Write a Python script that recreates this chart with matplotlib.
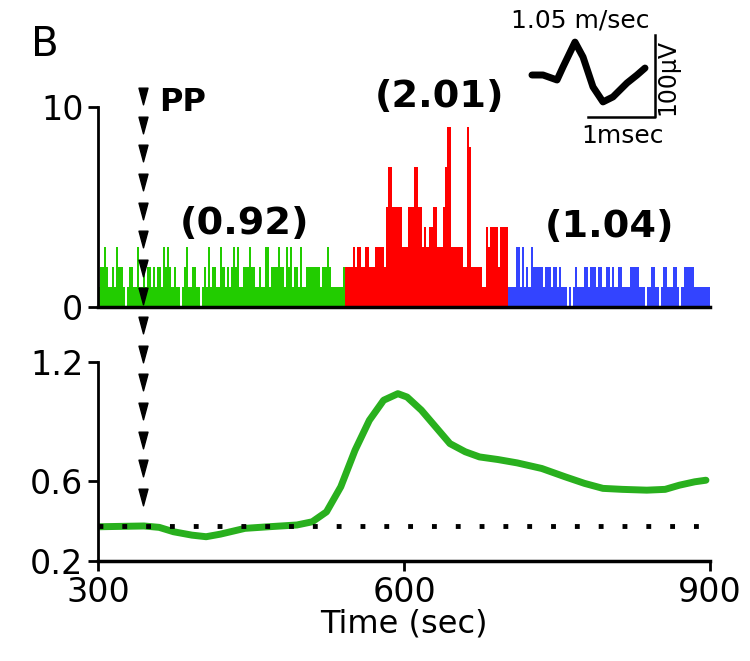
import numpy as np
import matplotlib
matplotlib.use("Agg")
import matplotlib.pyplot as plt
from matplotlib.path import Path

# spike counts per 2 s bin, one list per epoch
bin_width = 2
green_start = 300
green_counts = [1, 2, 2, 3, 2, 1, 1, 2, 1, 3, 2, 2, 1, 0, 1, 2, 2, 1, 1, 3,
                1, 1, 2, 1, 2, 2, 1, 2, 1, 2, 2, 1, 3, 2, 3, 2, 1, 2, 1, 1,
                0, 1, 2, 3, 1, 1, 2, 2, 1, 1, 0, 1, 2, 1, 3, 1, 2, 2, 1, 1,
                3, 2, 1, 2, 1, 2, 3, 2, 3, 1, 1, 2, 2, 2, 3, 2, 2, 1, 1, 2,
                1, 1, 3, 3, 1, 2, 2, 2, 3, 2, 2, 1, 3, 2, 3, 1, 2, 2, 1, 3,
                1, 1, 2, 2, 2, 2, 2, 2, 2, 1, 2, 2, 3, 2, 1, 1, 1, 1, 1, 1,
                2]
red_start = 542
red_counts = [2, 2, 2, 2, 3, 2, 3, 3, 2, 2, 3, 3, 2, 2, 2, 3, 3, 3, 3, 2,
              5, 7, 7, 5, 5, 5, 5, 5, 3, 3, 3, 5, 5, 5, 7, 7, 5, 5, 3, 4,
              3, 4, 4, 5, 5, 3, 3, 3, 5, 7, 9, 9, 3, 3, 3, 3, 3, 3, 2, 2,
              9, 8, 2, 2, 2, 2, 2, 1, 1, 4, 3, 4, 4, 4, 4, 2, 4, 4, 4, 4]
blue_start = 702
blue_counts = [1, 1, 1, 1, 3, 3, 1, 3, 1, 2, 1, 3, 2, 2, 2, 2, 2, 1, 2, 2,
               2, 1, 2, 2, 1, 2, 1, 1, 1, 0, 1, 0, 1, 2, 1, 1, 1, 2, 2, 1,
               2, 2, 2, 1, 2, 2, 1, 1, 2, 2, 1, 2, 1, 1, 2, 2, 1, 1, 1, 1,
               2, 2, 2, 2, 1, 1, 1, 0, 1, 1, 2, 2, 1, 1, 0, 1, 2, 2, 1, 1,
               1, 2, 2, 1, 0, 1, 2, 2, 2, 2, 2, 1, 1, 1, 1, 1, 1, 1, 1]
epoch_rates = ["(0.92)", "(2.01)", "(1.04)"]

# normalised response over time
curve_t = [300, 345, 360, 374, 392, 406, 420, 444, 467, 495, 510, 524, 538,
           552, 566, 580, 594, 603, 617, 631, 645, 660, 674, 692, 711, 735,
           758, 777, 795, 814, 838, 856, 870, 885, 896]
curve_v = [0.372, 0.376, 0.369, 0.347, 0.330, 0.322, 0.335, 0.364, 0.372,
           0.381, 0.397, 0.447, 0.573, 0.757, 0.907, 1.008, 1.041, 1.024,
           0.958, 0.874, 0.790, 0.749, 0.723, 0.710, 0.693, 0.665, 0.623,
           0.590, 0.565, 0.560, 0.556, 0.560, 0.581, 0.598, 0.606]
baseline = 0.375
pp_time = 344

# averaged spike waveform (ms, uV)
wave_ms = [0.104, 0.269, 0.478, 0.567, 0.746, 0.866, 1.015, 1.164, 1.313,
           1.522, 1.672, 1.791]
wave_uv = [0, 0, -6.1, 9.8, 40.2, 22.0, -14.6, -32.9, -26.8, -9.8, 0, 8.5]

plt.rcParams['font.family'] = ['DejaVu Sans']

fig = plt.figure(figsize=(7.5, 6.61), dpi=100)
ax1 = fig.add_axes([0.1307, 0.5356, 0.816, 0.3026])
ax2 = fig.add_axes([0.1307, 0.1513, 0.816, 0.3010])
ax1.patch.set_visible(False)
ax2.patch.set_visible(False)
ax1.set_zorder(3)

# histogram
for start, counts, col in [(green_start, green_counts, '#22cc00'),
                           (red_start, red_counts, '#ff0000'),
                           (blue_start, blue_counts, '#3344ff')]:
    edges = start + bin_width * np.arange(len(counts))
    ax1.bar(edges, counts, width=bin_width, align='edge', color=col,
            linewidth=0)

ax1.set_xlim(300, 900)
ax1.set_ylim(0, 10)
ax1.set_yticks([0, 10])
ax1.set_xticks([])
for s in ['top', 'right']:
    ax1.spines[s].set_visible(False)
ax1.spines['left'].set_linewidth(2)
ax1.spines['bottom'].set_linewidth(2.5)
ax1.tick_params(axis='y', labelsize=24, width=2, length=7)

ax1.text(444, 4.15, epoch_rates[0], fontsize=27.5, fontweight='bold',
         ha='center', va='center')
ax1.text(635, 10.5, epoch_rates[1], fontsize=27.5, fontweight='bold',
         ha='center', va='center', clip_on=False)
ax1.text(801, 4.0, epoch_rates[2], fontsize=27.5, fontweight='bold',
         ha='center', va='center')
ax1.text(360, 10.2, "PP", fontsize=23, fontweight='bold',
         ha='left', va='center', clip_on=False)

# stimulus marker: column of narrow triangles running through both panels
tri = Path([(-0.27, 0.5), (0.27, 0.5), (0, -0.5), (-0.27, 0.5)],
           [Path.MOVETO, Path.LINETO, Path.LINETO, Path.CLOSEPOLY])
ys = np.linspace(10.55, -9.5, 15)
ax1.plot([pp_time] * len(ys), ys, linestyle='none', marker=tri,
         markersize=12, color='black', clip_on=False, zorder=5)

# response trace
ax2.axhline(baseline, xmin=0.0, xmax=0.985, color='black', linewidth=3.5,
            linestyle=(0, (1, 3.9)), dash_capstyle='butt', zorder=3)
ax2.plot(curve_t, curve_v, color='#29b01e', linewidth=5,
         solid_capstyle='round', solid_joinstyle='round', zorder=2)
ax2.set_xlim(300, 900)
ax2.set_ylim(0.2, 1.2)
ax2.set_xticks([300, 600, 900])
ax2.set_yticks([0.2, 0.6, 1.2])
ax2.set_yticklabels(["0.2", "0.6", "1.2"])
for s in ['top', 'right']:
    ax2.spines[s].set_visible(False)
ax2.spines['left'].set_linewidth(2)
ax2.spines['bottom'].set_linewidth(2.5)
ax2.tick_params(labelsize=24, width=2, length=7)
ax2.set_xlabel("Time (sec)", fontsize=23, labelpad=0)

# waveform inset with scale bars
ax3 = fig.add_axes([525 / 750, 1 - 120 / 661, 135 / 750, 90 / 661])
ax3.set_xlim(0, 2.015)
ax3.set_ylim(-55, 55)
ax3.axis('off')
ax3.plot(wave_ms, wave_uv, color='black', linewidth=5,
         solid_joinstyle='round', solid_capstyle='round')
ax3.plot([0.94, 1.94, 1.94], [-51.2, -51.2, 48.8], color='black',
         linewidth=1.8, clip_on=False)
ax3.text(0.82, 66, "1.05 m/sec", fontsize=18, ha='center', va='center',
         clip_on=False)
ax3.text(1.45, -74, "1msec", fontsize=18, ha='center', va='center',
         clip_on=False)
ax3.text(2.13, -2, "100μV", fontsize=17, rotation=90, ha='center',
         va='center', clip_on=False)

fig.text(45 / 750, 1 - 45 / 661, "B", fontsize=29, ha='center', va='center')

fig.savefig("out.png", dpi=100)
